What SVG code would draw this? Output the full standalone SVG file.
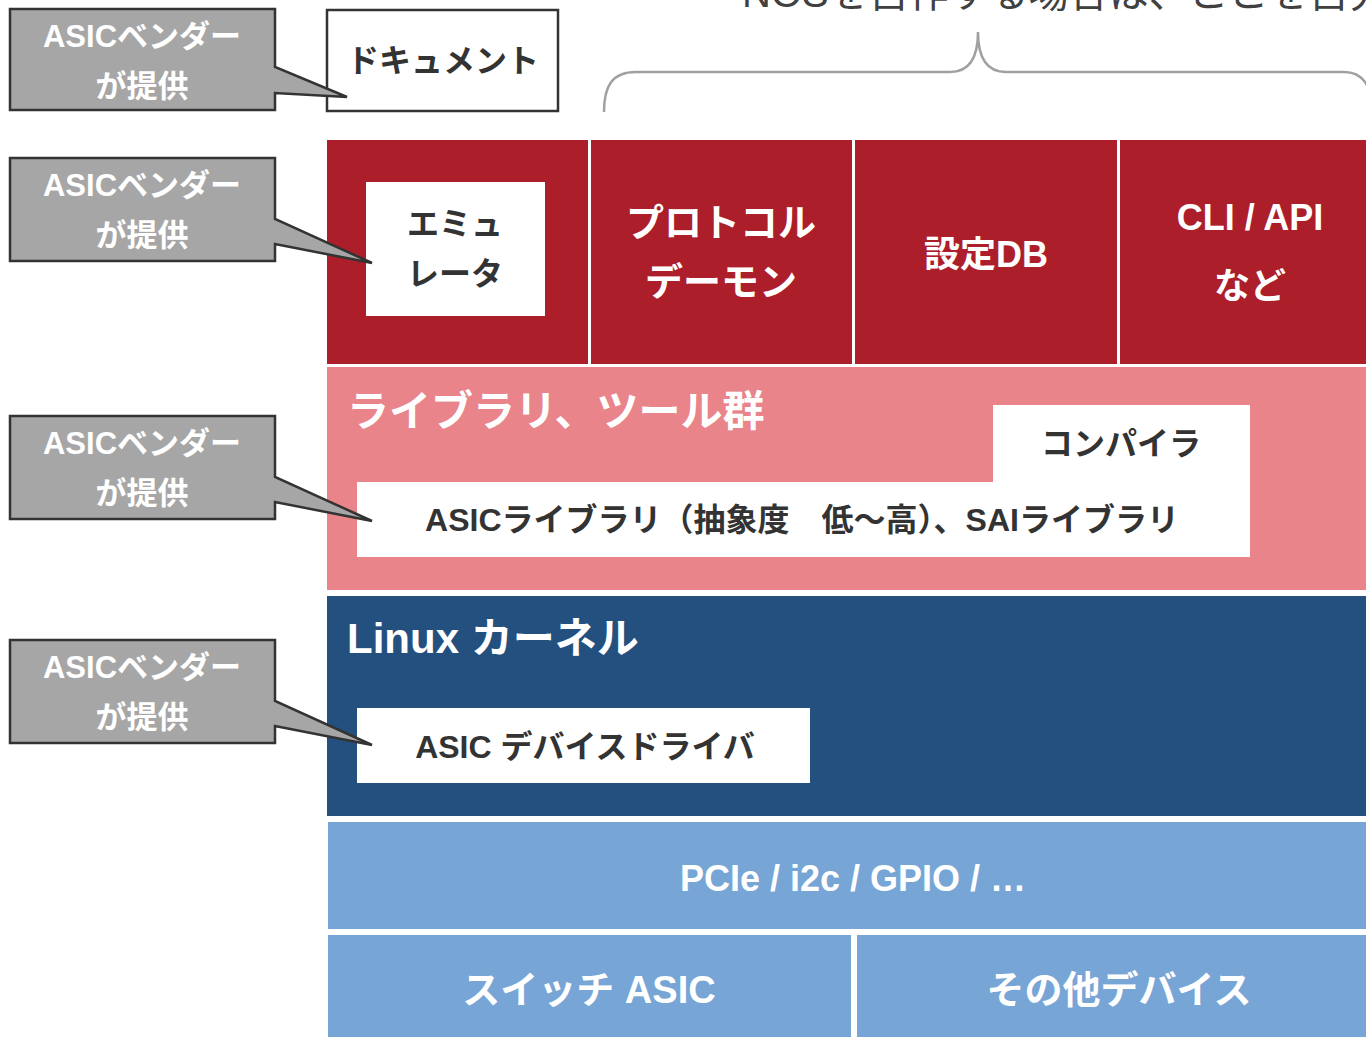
<svg xmlns="http://www.w3.org/2000/svg" width="1366" height="1037" viewBox="0 0 1366 1037">
<style>
text{font-family:"Liberation Sans","Noto Sans CJK JP",sans-serif;font-weight:bold;text-anchor:middle}
.w{fill:#ffffff}
.k{fill:#333333}
.call{fill:#a6a6a6;stroke:#333333;stroke-width:2.5;stroke-linejoin:miter}
.ct{font-size:31px;fill:#ffffff}
.red{fill:#ac1e29}
.pink{fill:#e9848a}
.blue{fill:#24507f}
.lblue{fill:#76a5d6}
.box{fill:#ffffff}
</style>
<rect width="1366" height="1037" fill="#ffffff"/>

<g id="top-note">
<text x="742" y="7" style="font-weight:normal;text-anchor:start;font-size:40px;fill:#404040">NOSを自作する場合は、ここを自分で</text>
</g>

<g id="connectors">
<path d="M604,112 C604,86 612,72 636,72 L950,72 C970,72 978,56 978,32 C978,56 986,72 1006,72 L1344,72 C1358,72 1366,80 1370,92" fill="none" stroke="#a0a0a0" stroke-width="2.5"/>
</g>

<g id="document">
<rect x="327" y="10" width="231" height="101" fill="#ffffff" stroke="#333333" stroke-width="2.5"/>
<text class="k" x="443" y="72" font-size="32">ドキュメント</text>
</g>

<g id="cell-emulator">
<rect class="red" x="327" y="140" width="261" height="224"/>
<rect class="box" x="366" y="182" width="179" height="134"/>
<text class="k" x="455" y="235" font-size="32">エミュ</text>
<text class="k" x="455" y="285" font-size="32">レータ</text>
</g>
<g id="cell-protocol">
<rect class="red" x="591" y="140" width="261" height="224"/>
<text class="w" x="721" y="236" font-size="38">プロトコル</text>
<text class="w" x="721" y="295" font-size="38">デーモン</text>
</g>
<g id="cell-configdb">
<rect class="red" x="855" y="140" width="262" height="224"/>
<text class="w" x="986" y="267" font-size="36">設定DB</text>
</g>
<g id="cell-cli">
<rect class="red" x="1120" y="140" width="262" height="224"/>
<text class="w" x="1250" y="230" font-size="36">CLI / API</text>
<text class="w" x="1250" y="299" font-size="36">など</text>
</g>

<g id="libraries">
<rect class="pink" x="327" y="367" width="1050" height="223"/>
<text class="w" x="347" y="426" font-size="42" style="text-anchor:start">ライブラリ、ツール群</text>
<path class="box" d="M993,405 H1250 V557 H357 V482 H993 Z"/>
<text class="k" x="1121" y="455" font-size="32">コンパイラ</text>
<text class="k" x="802" y="531" font-size="32">ASICライブラリ（抽象度　低〜高）、SAIライブラリ</text>
</g>

<g id="kernel">
<rect class="blue" x="327" y="596" width="1050" height="220"/>
<text class="w" x="347" y="653" font-size="42" style="text-anchor:start">Linux カーネル</text>
<rect class="box" x="357" y="708" width="453" height="75"/>
<text class="k" x="585" y="758" font-size="32">ASIC デバイスドライバ</text>
</g>

<g id="bus">
<rect class="lblue" x="328" y="822" width="1050" height="107"/>
<text class="w" x="853" y="891" font-size="36">PCIe / i2c / GPIO / …</text>
</g>
<g id="switch-asic">
<rect class="lblue" x="328" y="935" width="523" height="110"/>
<text class="w" x="589" y="1003" font-size="38">スイッチ ASIC</text>
</g>
<g id="other-devices">
<rect class="lblue" x="857" y="935" width="521" height="110"/>
<text class="w" x="1119" y="1003" font-size="38">その他デバイス</text>
</g>

<g id="callout-1">
<path class="call" d="M10,9 H275 V67 L347,97 L275,93 V110 H10 Z"/>
<text class="ct" x="142" y="47">ASICベンダー</text>
<text class="ct" x="142" y="97">が提供</text>
</g>
<g id="callout-2">
<path class="call" d="M10,158 H275 V219 L372,263 L275,244 V261 H10 Z"/>
<text class="ct" x="142" y="196">ASICベンダー</text>
<text class="ct" x="142" y="246">が提供</text>
</g>
<g id="callout-3">
<path class="call" d="M10,416 H275 V477 L372,521 L275,502 V519 H10 Z"/>
<text class="ct" x="142" y="454">ASICベンダー</text>
<text class="ct" x="142" y="504">が提供</text>
</g>
<g id="callout-4">
<path class="call" d="M10,640 H275 V701 L372,745 L275,726 V743 H10 Z"/>
<text class="ct" x="142" y="678">ASICベンダー</text>
<text class="ct" x="142" y="728">が提供</text>
</g>
</svg>
